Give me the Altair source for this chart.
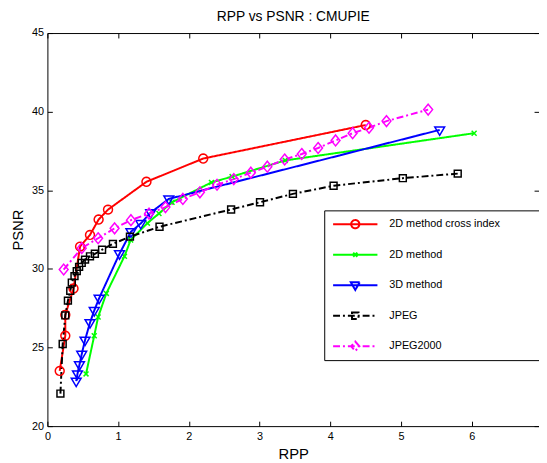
import math
import altair as alt
import pandas as pd

FONT = "Liberation Sans"

names = ["2D method cross index", "2D method", "3D method", "JPEG", "JPEG2000"]
colors = ["#ff0000", "#00ff00", "#0000ff", "#000000", "#ff00ff"]
dashes = [[1, 0], [1, 0], [1, 0], [7, 3, 2, 3], [7, 3, 2, 3]]

red_x = [0.174, 0.253, 0.253, 0.369, 0.462, 0.602, 0.724, 0.857, 1.40, 2.203, 4.50]
red_y = [23.51, 25.75, 27.08, 28.75, 31.42, 32.16, 33.14, 33.77, 35.54, 37.02, 39.15]

green_x = [0.546, 0.662, 0.717, 0.833, 1.089, 1.177, 1.414, 1.577, 1.762, 2.319, 2.611, 3.363, 6.033]
green_y = [23.32, 25.75, 26.94, 28.44, 30.80, 31.84, 32.91, 33.52, 34.24, 35.50, 35.87, 36.90, 38.63]

blue_x = [0.407, 0.425, 0.453, 0.485, 0.532, 0.602, 0.662, 0.731, 1.019, 1.181, 1.32, 1.46, 1.716, 5.546]
blue_y = [22.86, 23.32, 23.90, 24.57, 25.47, 26.58, 27.35, 28.13, 30.96, 32.36, 32.89, 33.58, 34.45, 38.84]

jpeg_x = [0.184, 0.216, 0.253, 0.29, 0.323, 0.345, 0.383, 0.415, 0.448, 0.485, 0.532, 0.602,
          0.671, 0.773, 0.926, 1.167, 1.585, 2.597, 3.006, 3.471, 4.046, 5.025, 5.801]
jpeg_y = [22.07, 25.22, 27.04, 27.98, 28.60, 29.13, 29.54, 29.86, 30.13, 30.38, 30.59, 30.80,
          30.96, 31.22, 31.59, 32.05, 32.68, 33.78, 34.24, 34.77, 35.29, 35.77, 36.06]

j2k_x = [0.23, 0.485, 0.717, 0.95, 1.181, 1.437, 1.669, 1.915, 2.156, 2.398, 2.635, 2.876,
         3.109, 3.354, 3.596, 3.827, 4.074, 4.315, 4.547, 4.794, 5.383]
j2k_y = [29.96, 31.32, 31.95, 32.58, 33.10, 33.52, 33.93, 34.45, 34.87, 35.35, 35.71, 36.12,
         36.50, 36.96, 37.31, 37.69, 38.17, 38.63, 38.98, 39.40, 40.13]

x_ticks = [0, 1, 2, 3, 4, 5, 6]
y_ticks = [20, 25, 30, 35, 40, 45]

rows = []
for name, xs, ys in zip(names, [red_x, green_x, blue_x, jpeg_x, j2k_x],
                        [red_y, green_y, blue_y, jpeg_y, j2k_y]):
    for i, (a, b) in enumerate(zip(xs, ys)):
        rows.append({"series": name, "rpp": a, "psnr": b, "idx": i})
df = pd.DataFrame(rows)

W, H = 499, 399


def ring(r, n=20):
    pts = ["%.3f,%.3f" % (r * math.cos(2 * math.pi * k / n), r * math.sin(2 * math.pi * k / n))
           for k in range(n)]
    return "M" + "L".join(pts) + "Z"


# marker shapes (unit scale = sqrt(size)/2 = 5 px)
marker_paths = [
    ring(0.9),
    "M-0.5,-0.5L0.5,0.5M-0.5,0.5L0.5,-0.5",
    "M-1,-0.6L1,-0.6L0,1.1Z",
    "M-0.7,-0.7L0.7,-0.7L0.7,0.7L-0.7,0.7Z",
    "M0,-1.1L0.9,0L0,1.1L-0.9,0Z",
]
# legend symbols: line sample + marker (unit scale = 3 px)
LINE = "M-7.5,0L7.5,0"
legend_paths = [
    LINE + ring(1.4),
    LINE + "M-0.7,-0.7L0.7,0.7M-0.7,0.7L0.7,-0.7",
    LINE + "M-1.5,-1L1.5,-1L0,1.6Z",
    LINE + "M-1.1,-1.1L1.1,-1.1L1.1,1.1L-1.1,1.1Z",
    LINE + "M0,-1.6L1.4,0L0,1.6L-1.4,0Z",
]

xscale = alt.Scale(domain=[0, 6.95], nice=False, zero=False)
yscale = alt.Scale(domain=[20, 45], nice=False, zero=False)

lab = dict(labelFont=FONT, labelFontSize=11, labelColor="black", grid=False,
           domainColor="black", tickColor="black", labelOverlap=False)

lines = alt.Chart(df).mark_line(strokeWidth=2).encode(
    x=alt.X("rpp:Q", scale=xscale,
            axis=alt.Axis(orient="bottom", values=x_ticks, ticks=False, tickSize=0,
                          labelPadding=5, labelFlush=False, title="RPP",
                          titleFont=FONT, titleFontSize=15, titleFontWeight="normal",
                          titleColor="black", titlePadding=5, domainWidth=1, **lab)),
    y=alt.Y("psnr:Q", scale=yscale,
            axis=alt.Axis(orient="left", values=y_ticks, ticks=False, tickSize=0,
                          labelPadding=4, title="PSNR",
                          titleFont=FONT, titleFontSize=15, titleFontWeight="normal",
                          titleColor="black", titlePadding=6, domainWidth=1, **lab)),
    color=alt.Color("series:N", scale=alt.Scale(domain=names, range=colors), legend=None),
    strokeDash=alt.StrokeDash("series:N", scale=alt.Scale(domain=names, range=dashes), legend=None),
    order="idx:Q",
)

points = alt.Chart(df).mark_point(filled=False, size=100, strokeWidth=1.5, opacity=1).encode(
    x=alt.X("rpp:Q", scale=xscale,
            axis=alt.Axis(orient="top", offset=-H, values=x_ticks, labels=False,
                          domain=False, ticks=True, tickSize=5, title=None, **lab)),
    y=alt.Y("psnr:Q", scale=yscale,
            axis=alt.Axis(orient="right", offset=-W, values=y_ticks, labels=False,
                          domain=False, ticks=True, tickSize=5, title=None, **lab)),
    color=alt.Color("series:N", scale=alt.Scale(domain=names, range=colors), legend=None),
    shape=alt.Shape("series:N", scale=alt.Scale(domain=names, range=marker_paths), legend=None),
)

# trailing no-break spaces (kept by a final zero-width space) widen the legend box
pad = "\u00a0" * 13 + "\u200b"
leg_def = alt.Legend(
    title=None, orient="none", legendX=281, legendY=180, direction="vertical",
    strokeColor="black", fillColor="white", padding=3,
    symbolSize=36, symbolStrokeWidth=2, symbolOffset=23,
    labelOffset=29, labelFont=FONT, labelFontSize=11, labelColor="black",
    labelLimit=300, titleFontSize=0, titlePadding=0,
    clipHeight=22, rowPadding=9, labelExpr="datum.label + '" + pad + "'",
)

legend_layer = alt.Chart(df).transform_filter("false").mark_point(
    filled=False, size=36, strokeWidth=2, opacity=1).encode(
    x=alt.X("rpp:Q", scale=xscale,
            axis=alt.Axis(orient="bottom", offset=-H, values=x_ticks, labels=False,
                          domain=True, domainWidth=1, ticks=True, tickSize=5, title=None, **lab)),
    y=alt.Y("psnr:Q", scale=yscale,
            axis=alt.Axis(orient="left", offset=-W, values=y_ticks, labels=False,
                          domain=False, ticks=True, tickSize=5, title=None, **lab)),
    color=alt.Color("series:N", scale=alt.Scale(domain=names, range=colors), legend=leg_def),
    shape=alt.Shape("series:N", scale=alt.Scale(domain=names, range=legend_paths), legend=leg_def),
    strokeDash=alt.StrokeDash("series:N", scale=alt.Scale(domain=names, range=dashes), legend=leg_def),
)

chart = alt.layer(lines, points, legend_layer).resolve_scale(
    color="independent", shape="independent", strokeDash="independent"
).resolve_axis(
    x="independent", y="independent"
).properties(
    width=W, height=H,
    title=alt.TitleParams("RPP vs PSNR : CMUPIE", font=FONT, fontSize=14,
                          fontWeight="normal", color="black", offset=3, anchor="middle"),
    autosize=alt.AutoSizeParams(type="none"),
    padding={"left": 40, "top": 22, "right": 0, "bottom": 34},
    background="white",
).configure_view(stroke=None)

chart.save("out.html", embed_options={"renderer": "svg", "actions": False})
